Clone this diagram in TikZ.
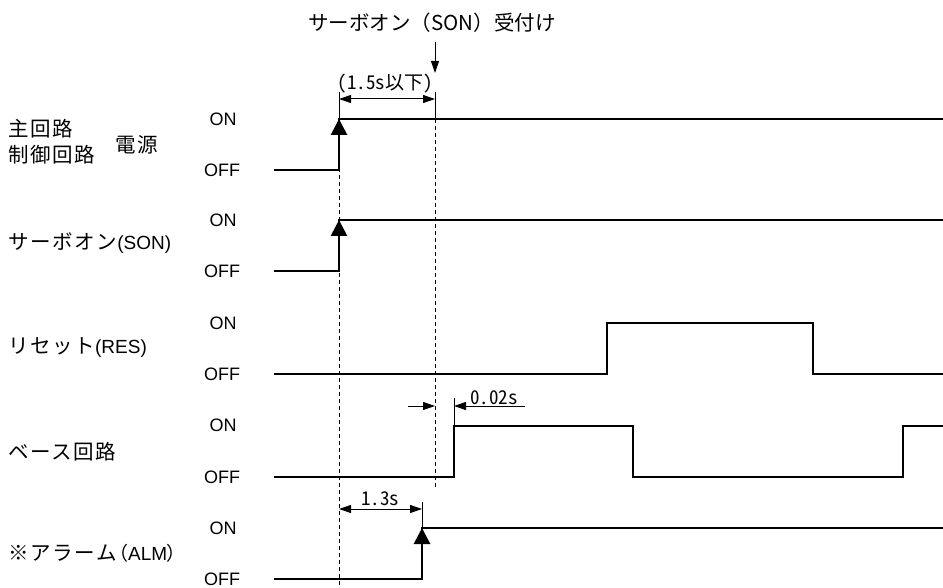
\documentclass[tikz,border=0pt]{standalone}
\usepackage{fontspec}
\setmainfont{Liberation Sans}
\newfontfamily\jp{Noto Sans CJK JP}
\newfontfamily\jpl[LetterSpace=8]{Noto Sans CJK JP}
\newfontfamily\jpp[RawFeature=+palt]{Noto Sans CJK JP}
\newfontfamily\jph[RawFeature=+hwid]{Noto Sans CJK JP}
\newcommand\kana[1]{{\fontsize{20.5}{22}\jpl #1}}
\usetikzlibrary{arrows.meta}
\begin{document}
\begin{tikzpicture}[x=1pt,y=-1pt,
  sig/.style={line width=2.8pt},
  thin/.style={line width=1pt},
  guide/.style={line width=1pt, dash pattern=on 4pt off 3pt},
  rise/.style={line width=2.8pt,-{Triangle[length=16pt,width=16pt]}},
  dimarr/.style={line width=1pt,-{Triangle[length=12pt,width=8pt]}},
  dimboth/.style={line width=1pt,{Triangle[length=12pt,width=8pt]}-{Triangle[length=12pt,width=8pt]}},
  lvl/.style={font=\fontsize{18}{20}\selectfont, inner sep=0pt},
  signame/.style={font=\fontsize{19}{20}\selectfont, anchor=west, inner sep=0pt},
  dimtxt/.style={font=\jph\fontsize{19}{20}\selectfont, inner sep=0pt}
]
\useasboundingbox (0,0) rectangle (943,588);

% title and arrow
\node[font=\jp\fontsize{20.5}{22}\selectfont, inner sep=0pt] (title) at (432,23) {サーボオン（SON）受付け};
\coordinate (dnA) at (435,42);
\coordinate (dnB) at (435,73);
\draw[dimarr] (dnA) -- (dnB);

% level labels
\node[lvl] (on1)  at (223,119) {ON};
\node[lvl] (off1) at (222,170) {OFF};
\node[lvl] (on2)  at (223,220) {ON};
\node[lvl] (off2) at (222,271) {OFF};
\node[lvl] (on3)  at (223,323) {ON};
\node[lvl] (off3) at (222,374) {OFF};
\node[lvl] (on4)  at (223,425) {ON};
\node[lvl] (off4) at (222,477) {OFF};
\node[lvl] (on5)  at (223,528) {ON};
\node[lvl] (off5) at (222,579) {OFF};

% signal names
\node[signame] (n1a) at (8,129) {\kana{主回路}};
\node[signame] (n1b) at (8,155) {\kana{制御回路}};
\node[signame] (n1c) at (115,145) {\kana{電源}};
\node[signame] (n2) at (8,243) {\kana{サーボオン}(SON)};
\node[signame] (n3) at (8,348) {\kana{リセット}(RES)};
\node[signame] (n4) at (8,452) {\kana{ベース回路}};
\node[signame] (n5) at (8,553) {\kana{※アラーム}\hspace{2pt}{\jpp （}ALM{\jpp ）}};

% guide lines
\coordinate (g1top) at (339,92);
\coordinate (g1a) at (339,119);
\coordinate (g1bot) at (339,588);
\coordinate (g2top) at (435,92);
\coordinate (g2a) at (435,119);
\coordinate (g2bot) at (435,489);
\draw[thin] (g1top) -- (g1a);
\draw[guide] (g1a) -- (g1bot);
\draw[thin] (g2top) -- (g2a);
\draw[guide] (g2a) -- (g2bot);

% signal 1: power
\coordinate (a0) at (274,170);
\coordinate (a1) at (339,170);
\coordinate (a2) at (339,119);
\coordinate (a3) at (943,119);
\draw[sig] (a0) -- (a1) -- (a2) -- (a3);
\draw[rise] (a1) -- (a2);

% signal 2: SON
\coordinate (b0) at (274,271);
\coordinate (b1) at (339,271);
\coordinate (b2) at (339,220);
\coordinate (b3) at (943,220);
\draw[sig] (b0) -- (b1) -- (b2) -- (b3);
\draw[rise] (b1) -- (b2);

% signal 3: RES
\coordinate (c0) at (274,374);
\coordinate (c1) at (607,374);
\coordinate (c2) at (607,323);
\coordinate (c3) at (813,323);
\coordinate (c4) at (813,374);
\coordinate (c5) at (943,374);
\draw[sig] (c0) -- (c1) -- (c2) -- (c3) -- (c4) -- (c5);

% signal 4: base circuit
\coordinate (d0) at (274,477);
\coordinate (d1) at (454,477);
\coordinate (d2) at (454,426);
\coordinate (d3) at (633,426);
\coordinate (d4) at (633,477);
\coordinate (d5) at (903,477);
\coordinate (d6) at (903,426);
\coordinate (d7) at (943,426);
\draw[sig] (d0) -- (d1) -- (d2) -- (d3) -- (d4) -- (d5) -- (d6) -- (d7);

% signal 5: alarm
\coordinate (e0) at (274,579);
\coordinate (e1) at (422,579);
\coordinate (e2) at (422,528);
\coordinate (e3) at (943,528);
\draw[sig] (e0) -- (e1) -- (e2) -- (e3);
\draw[rise] (e1) -- (e2);

% dimension 1.5s
\coordinate (m1a) at (339,99);
\coordinate (m1b) at (435,99);
\draw[dimboth] (m1a) -- (m1b);
\node[dimtxt, anchor=base] (t1) at (385,90) {(1.5s以下)};

% dimension 0.02s
\coordinate (m2l) at (408,406);
\coordinate (m2a) at (435,406);
\coordinate (m2b) at (454,406);
\coordinate (m2r) at (525,406);
\coordinate (k2a) at (454,398);
\draw[thin] (k2a) -- (d2);
\draw[dimarr] (m2l) -- (m2a);
\draw[dimarr] (m2r) -- (m2b);
\node[dimtxt, anchor=base] (t2) at (494,404) {0.02s};

% dimension 1.3s
\coordinate (m3a) at (339,509);
\coordinate (m3b) at (422,509);
\coordinate (k3a) at (422,502);
\draw[thin] (k3a) -- (e2);
\draw[dimboth] (m3a) -- (m3b);
\node[dimtxt, anchor=base] (t3) at (380,505) {1.3s};
\end{tikzpicture}
\end{document}
